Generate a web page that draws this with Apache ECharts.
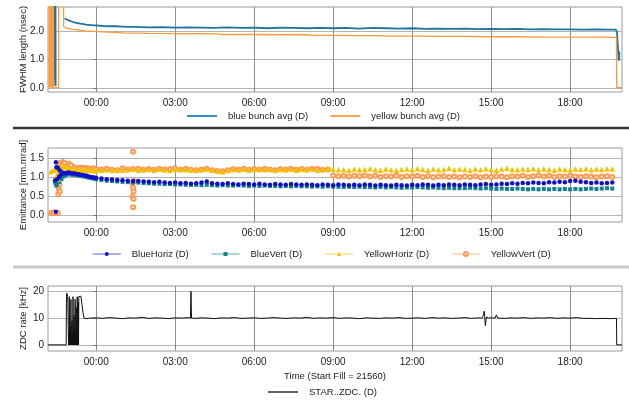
<!DOCTYPE html>
<html><head><meta charset="utf-8">
<script src="https://cdn.jsdelivr.net/npm/echarts@6/dist/echarts.min.js"></script>
<style>html,body{margin:0;padding:0;background:#fff}#c{width:629px;height:400px}</style>
</head><body><div id="c"></div>
<script>
// ---- tick labels ----
const hourTicks = [0, 3, 6, 9, 12, 15, 18];
const hourLabels = ['00:00', '03:00', '06:00', '09:00', '12:00', '15:00', '18:00'];
const fwhmTicks = [0, 1, 2];
const emitTicks = [0, 0.5, 1, 1.5];
const zdcTicks = [0, 10, 20];

// ---- panel 1: FWHM bunch length [hours, nsec] ----
const fwhmBlue = [[-1.83,1.0],[-1.80,1.0],[-1.79,null],[-1.61,0.9],[-1.605,2.95],[-1.60,0.9],[-1.55,0.06],[-1.545,2.95],[-1.54,0.06],[-1.53,null],
[-1.20,2.45],[-1.10,2.40],[-1.00,2.36],[-0.90,2.33],[-0.80,2.30],[-0.70,2.28],[-0.60,2.26],[-0.50,2.25],[-0.40,2.23],[-0.30,2.22],[-0.20,2.21],[-0.10,2.20],
[0.0,2.20],[0.25,2.18],[0.5,2.17],[0.75,2.17],[1.0,2.16],[1.25,2.15],[1.5,2.15],[1.75,2.14],[2.0,2.13],[2.5,2.14],[3.0,2.12],[3.5,2.13],[4.0,2.12],[4.5,2.11],[5.0,2.13],[5.5,2.11],[6.0,2.12],[6.5,2.10],[7.0,2.12],[7.5,2.11],[8.0,2.10],[8.5,2.11],[9.0,2.10],[9.5,2.11],[10.0,2.09],[10.5,2.11],[11.0,2.10],[11.5,2.09],[12.0,2.10],[12.5,2.08],[13.0,2.09],[13.5,2.08],[14.0,2.09],[14.5,2.07],[15.0,2.08],[15.5,2.07],[16.0,2.08],[16.5,2.06],[17.0,2.07],[17.5,2.06],[18.0,2.06],[18.5,2.05],[19.0,2.06],[19.5,2.05],[19.74,2.05],[19.78,1.95],[19.82,1.35],[19.84,1.0],[19.85,1.3],[19.86,0.95],[19.87,1.25]];
const fwhmYellow = [[-1.79,0],[-1.785,2.95],[-1.78,0.1],[-1.775,2.95],[-1.77,0],[-1.765,2.9],[-1.76,0.2],[-1.755,2.95],[-1.75,0],[-1.745,2.95],[-1.74,0],[-1.735,2.9],[-1.73,0.1],[-1.725,2.95],[-1.72,0],[-1.715,2.95],[-1.71,0],[-1.705,2.9],[-1.70,0],[-1.695,2.95],[-1.69,0],[-1.685,2.95],[-1.68,0.1],[-1.675,2.9],[-1.67,0],[-1.665,2.95],[-1.66,0],[-1.655,2.95],[-1.65,0],[-1.645,2.9],[-1.64,0],[-1.635,2.95],[-1.63,0],[-1.625,2.95],[-1.62,0],
[-1.43,0],[-1.425,3.0],[-1.24,3.0],[-1.235,2.15],[-1.2,2.13],[-1.1,2.10],[-1.0,2.08],[-0.9,2.06],[-0.8,2.05],[-0.6,2.03],[-0.4,2.01],[-0.2,2.00],
[0,1.98],[0.5,1.96],[1.0,1.94],[1.5,1.93],[2.0,1.92],[3.0,1.91],[4.0,1.91],[4.6,1.90],[4.7,1.88],[6.0,1.88],[7.0,1.87],[8.0,1.87],[8.2,1.85],[9.0,1.85],[10.0,1.84],[10.8,1.84],[11.0,1.82],[12.0,1.82],[13.0,1.81],[14.0,1.81],[15.0,1.80],[16.0,1.80],[17.0,1.79],[18.0,1.79],[19.0,1.79],[19.76,1.78],[19.77,0],[19.97,0]];

// ---- panel 2: emittance ----
const emitTimes = [-1.72,-1.64,-1.56,-1.48,-1.40,-1.32,-1.24,-1.16,-1.08,-1.00,-0.92,-0.84,-0.76,-0.68,-0.60,-0.52,-0.44,-0.36,-0.28,-0.20,-0.12,-0.04,
0.0,0.2,0.4,0.6,0.8,1.0,1.2,1.4,1.6,1.8,
2.0,2.2,2.4,2.6,2.8,3.0,3.2,3.4,3.6,3.8,
4.0,4.2,4.4,4.6,4.8,5.0,5.2,5.4,5.6,5.8,
6.0,6.2,6.4,6.6,6.8,7.0,7.2,7.4,7.6,7.8,
8.0,8.2,8.4,8.6,8.8,9.0,9.2,9.4,9.6,9.8,
10.0,10.2,10.4,10.6,10.8,11.0,11.2,11.4,11.6,11.8,
12.0,12.2,12.4,12.6,12.8,13.0,13.2,13.4,13.6,13.8,
14.0,14.2,14.4,14.6,14.8,15.0,15.2,15.4,15.6,15.8,
16.0,16.2,16.4,16.6,16.8,17.0,17.2,17.4,17.6,17.8,
18.0,18.2,18.4,18.6,18.8,19.0,19.2,19.4,19.6];
const blueHoriz = [null,null,0.92,0.95,1.02,1.08,1.12,1.10,1.13,1.12,1.10,1.11,1.09,1.08,1.07,1.06,1.05,1.04,1.02,1.01,1.00,0.99,
0.98,0.97,0.95,0.94,0.93,0.92,0.91,0.90,0.90,0.89,
0.88,0.87,0.88,0.86,0.85,0.86,0.84,0.85,0.83,0.84,
0.86,0.89,0.84,0.83,0.82,0.84,0.82,0.81,0.83,0.82,
0.81,0.83,0.81,0.80,0.82,0.81,0.80,0.82,0.81,0.80,
0.81,0.80,0.79,0.81,0.80,0.79,0.81,0.80,0.79,0.80,
0.79,0.81,0.80,0.78,0.80,0.79,0.78,0.80,0.79,0.78,
0.80,0.79,0.81,0.80,0.78,0.80,0.79,0.81,0.80,0.79,
0.81,0.80,0.79,0.81,0.82,0.80,0.81,0.83,0.82,0.84,
0.83,0.85,0.84,0.86,0.85,0.84,0.87,0.86,0.88,0.87,
0.90,0.91,0.88,0.87,0.85,0.86,0.84,0.85,0.86];
const blueHorizExtra = [[-1.53,1.40],[-1.51,1.27],[-1.53,0.08],[-1.45,1.25],[-1.38,1.18]];
const blueVert = [null,null,0.86,0.82,0.88,0.95,1.02,1.06,1.08,1.08,1.07,1.07,1.06,1.05,1.04,1.03,1.02,1.01,0.99,0.98,0.97,0.96,
0.95,0.93,0.91,0.90,0.89,0.88,0.87,0.86,0.86,0.85,
0.84,0.83,0.83,0.82,0.82,0.81,0.81,0.80,0.80,0.80,
0.79,0.80,0.79,0.78,0.79,0.78,0.78,0.79,0.78,0.77,
0.78,0.77,0.78,0.77,0.77,0.76,0.77,0.76,0.77,0.76,
0.76,0.75,0.76,0.75,0.76,0.75,0.75,0.74,0.75,0.74,
0.75,0.74,0.74,0.73,0.74,0.73,0.74,0.73,0.72,0.73,
0.73,0.74,0.73,0.72,0.73,0.72,0.71,0.72,0.71,0.71,
0.71,0.72,0.71,0.70,0.71,0.70,0.69,0.70,0.69,0.69,
0.70,0.69,0.68,0.69,0.68,0.69,0.68,0.69,0.68,0.69,
0.68,0.69,0.68,0.69,0.70,0.69,0.70,0.71,0.70];
const blueVertExtra = [[-1.52,0.78],[-1.44,0.90],[-1.36,1.00]];
const yellowHoriz = [1.15,1.18,1.22,1.20,1.28,1.25,1.30,1.27,1.25,1.22,1.21,1.22,1.20,1.21,1.19,1.20,1.18,1.19,1.20,1.18,1.19,1.17,
1.18,1.19,1.20,1.18,1.21,1.19,1.20,1.22,1.19,1.20,
1.21,1.19,1.22,1.20,1.18,1.21,1.23,1.20,1.19,1.21,
1.20,1.22,1.19,1.17,1.15,1.18,1.21,1.20,1.22,1.19,
1.21,1.23,1.20,1.22,1.19,1.21,1.20,1.22,1.19,1.21,
1.20,1.22,1.19,1.21,1.24,1.22,1.20,1.21,1.19,1.22,
1.20,1.21,1.23,1.20,1.19,1.22,1.20,1.18,1.21,1.22,
1.20,1.23,1.21,1.19,1.22,1.20,1.21,1.24,1.20,1.22,
1.21,1.19,1.22,1.20,1.23,1.21,1.19,1.22,1.24,1.21,
1.20,1.22,1.21,1.23,1.20,1.22,1.21,1.19,1.22,1.21,
1.20,1.22,1.21,1.23,1.20,1.22,1.21,1.23,1.22];
const yellowHorizExtra = [[-1.50,1.05],[-1.45,0.95],[-1.42,1.10]];
const yellowVert = [0.05,0.06,0.05,0.90,1.35,1.38,1.36,1.33,1.35,1.30,1.28,1.27,1.25,1.24,1.25,1.26,1.24,1.25,1.23,1.22,1.24,1.23,
1.22,1.21,1.23,1.20,1.19,1.24,1.21,1.22,1.23,1.20,
1.22,1.20,1.23,1.21,1.22,1.24,1.20,1.23,1.21,1.19,
1.21,1.23,1.19,1.17,1.16,1.19,1.22,1.21,1.23,1.20,
1.22,1.21,1.23,1.21,1.19,1.22,1.21,1.23,1.20,1.22,
1.21,1.23,1.22,1.20,1.21,1.05,1.03,1.04,1.02,1.04,
1.03,1.05,1.02,1.04,1.01,1.03,1.02,1.04,1.01,1.03,
1.02,1.04,1.01,1.03,1.00,1.02,1.03,1.01,1.02,1.00,
1.02,1.01,1.03,1.00,1.02,1.01,1.03,1.02,1.00,1.03,
1.02,1.04,1.01,1.03,1.05,1.02,1.04,1.01,1.03,1.02,
1.04,1.02,1.01,1.03,1.02,1.00,1.02,1.03,1.01];
const yellowVertExtra = [[-1.60,0.05],[-1.46,0.05],[-1.44,0.55],[-1.42,0.68],[-1.40,0.80],[-1.38,0.62],[-1.36,1.10],[-1.34,1.20],[-1.36,1.38],[-1.30,1.32],[-1.28,1.40],[-1.26,1.40],[-1.20,1.38],[-1.12,1.30],[-1.04,1.36],[-0.96,1.32],
[1.40,1.68],[1.38,0.85],[1.40,0.72],[1.42,0.62],[1.38,0.48],[1.42,0.42],[1.40,0.20],[1.45,0.90]];

// ---- panel 3: ZDC rate [hours, kHz] ----
const zdcRate = [[-1.83,0],[-1.14,0],[-1.13,16],[-1.12,19.3],[-1.10,18.6],[-1.08,18.2],[-1.06,17.5],
[-1.05,0],[-1.04,5],[-1.03,0],[-1.02,18],[-1.01,0],[-1.00,4],[-0.99,1],[-0.98,7],[-0.97,0],[-0.96,17],[-0.95,0],[-0.94,5],[-0.93,0],[-0.92,9],[-0.91,0],[-0.90,4],[-0.89,0],[-0.88,18],[-0.87,0],[-0.86,6],[-0.85,0],[-0.84,11],[-0.83,0],[-0.82,5],[-0.81,0],[-0.80,17],[-0.79,0],[-0.78,6],[-0.77,0],[-0.76,14],[-0.75,0],[-0.74,4],[-0.73,0],[-0.72,18],[-0.71,0],[-0.70,7],[-0.69,0],[-0.68,16],[-0.67,0],[-0.66,18],
[-0.64,18.2],[-0.58,18.2],[-0.54,15],[-0.50,12],[-0.46,10],[-0.44,9.4],[-0.40,10.1],[-0.35,9.8],[-0.30,10.2],
[-0.25,10.0],[0.0,10.1],[0.25,9.9],[0.5,10.2],[0.75,10.0],[1.0,9.8],[1.25,10.1],[1.5,10.0],[1.75,10.3],[2.0,9.9],[2.25,10.1],[2.5,10.0],[2.75,9.8],[3.0,10.1],[3.25,10.0],[3.5,10.2],[3.58,10.0],[3.6,20.0],[3.62,10.0],[3.75,9.9],[4.0,10.1],[4.25,10.0],[4.5,9.8],[4.75,10.1],[5.0,10.0],[5.25,10.2],[5.5,9.9],[5.75,10.0],[6.0,10.1],[6.25,9.9],[6.5,10.0],[6.75,10.2],[7.0,10.0],[7.25,9.9],[7.5,10.1],[7.75,10.0],[8.0,10.3],[8.25,9.9],[8.5,10.1],[8.75,10.0],[9.0,10.2],[9.25,9.9],[9.5,10.1],[9.75,10.0],[10.0,9.8],[10.25,10.1],[10.5,10.0],[10.75,9.9],[11.0,10.1],[11.25,10.0],[11.5,10.2],[11.75,9.9],[12.0,10.0],[12.25,10.1],[12.5,9.9],[12.75,10.2],[13.0,10.0],[13.25,10.1],[13.5,9.9],[13.75,10.0],[14.0,10.2],[14.25,9.9],[14.5,10.1],[14.65,10.0],[14.70,11.0],[14.74,12.6],[14.78,7.2],[14.82,10.4],[14.9,10.0],[15.0,10.1],[15.15,10.0],[15.2,11.2],[15.25,10.0],[15.5,9.9],[15.75,10.1],[16.0,10.0],[16.25,10.2],[16.5,9.9],[16.75,10.1],[17.0,10.0],[17.25,10.2],[17.5,9.9],[17.75,10.1],[18.0,10.0],[18.25,10.2],[18.5,9.9],[18.75,9.9],[19.0,9.8],[19.25,9.9],[19.5,9.8],[19.76,9.9],[19.77,0],[19.97,0]];

// ---- build ----
const FONT = 'Liberation Sans';
const X_MIN = -1.83, X_MAX = 19.97;
const grids = [
  {left: 48, right: 7, top: 7, height: 85},
  {left: 48, right: 7, top: 148, height: 74},
  {left: 48, right: 7, top: 286, height: 65}
].map(g => Object.assign({show: true, borderColor: '#9a9a9a', borderWidth: 1, backgroundColor: '#fff'}, g));

function xAx(i, extra) {
  return Object.assign({
    type: 'value', gridIndex: i, min: X_MIN, max: X_MAX,
    axisLine: {show: false},
    axisTick: {show: true, customValues: hourTicks, length: 3, lineStyle: {color: '#777'}},
    axisLabel: {customValues: hourTicks, margin: 6, fontSize: 10, fontFamily: FONT, color: '#222',
      formatter: v => { const k = hourTicks.indexOf(v); return k >= 0 ? hourLabels[k] : ''; }},
    splitLine: {show: true, lineStyle: {color: '#8f8f8f', width: 1}}
  }, extra || {});
}
function yAx(i, min, max, ticks, name, fmt) {
  return {
    type: 'value', gridIndex: i, min: min, max: max,
    name: name, nameLocation: 'middle', nameGap: 20, nameMoveOverlap: false,
    nameTextStyle: {fontSize: 9.5, fontFamily: FONT, color: '#222'},
    axisLine: {show: false},
    axisTick: {show: true, customValues: ticks, length: 3, lineStyle: {color: '#777'}},
    axisLabel: {customValues: ticks, margin: 4, fontSize: 10, fontFamily: FONT, color: '#222', formatter: fmt},
    splitLine: {show: true, lineStyle: {color: '#b4b4b4', width: 1}}
  };
}
const pairs = (vals, extra) => emitTimes.map((t, k) => [t, vals[k]]).concat(extra);

function emitSeries(name, data, symbol, size, color, filled, z) {
  return {
    name: name, type: 'line', xAxisIndex: 1, yAxisIndex: 1, data: data, z: z,
    symbol: symbol, symbolSize: size, showSymbol: true,
    lineStyle: {width: 0, opacity: 0, color: color},
    itemStyle: filled ? {color: color} : {color: color, borderColor: color, borderWidth: 1},
    emphasis: {disabled: true}, connectNulls: false
  };
}

const chart = echarts.init(document.getElementById('c'), null, {renderer: 'canvas'});
const legendBase = {padding: 0, textStyle: {fontSize: 9.5, fontFamily: FONT, color: '#222', padding: [0, 0, 0, 6]}, itemWidth: 30, selectedMode: false};
chart.setOption({
  animation: false,
  backgroundColor: '#fff',
  grid: grids,
  graphic: [
    {type: 'line', shape: {x1: 13, y1: 128, x2: 629, y2: 128}, style: {stroke: '#333', lineWidth: 2.5}},
    {type: 'line', shape: {x1: 13, y1: 267, x2: 629, y2: 267}, style: {stroke: '#c8c8c8', lineWidth: 3}}
  ],
  legend: [
    Object.assign({}, legendBase, {left: 187, top: 111, itemGap: 22, icon: 'rect', itemHeight: 2,
      data: ['blue bunch avg (D)', 'yellow bunch avg (D)']}),
    Object.assign({}, legendBase, {left: 92, top: 249, itemGap: 22, itemHeight: 5, itemWidth: 28,
      lineStyle: {width: 1.5, opacity: 0.45},
      data: ['BlueHoriz (D)', 'BlueVert (D)', 'YellowHoriz (D)', 'YellowVert (D)']}),
    Object.assign({}, legendBase, {left: 268, top: 387, icon: 'rect', itemHeight: 1.5, data: ['STAR..ZDC. (D)']})
  ],
  xAxis: [xAx(0), xAx(1), xAx(2, {name: 'Time (Start Fill = 21560)', nameLocation: 'middle', nameGap: 20,
    nameTextStyle: {fontSize: 9.5, fontFamily: FONT, color: '#222'}})],
  yAxis: [
    yAx(0, -0.15, 2.85, fwhmTicks, 'FWHM length (nsec)', v => v.toFixed(1)),
    yAx(1, -0.19, 1.78, emitTicks, 'Emittance [mm.mrad]', v => v.toFixed(1)),
    yAx(2, -2.3, 22, zdcTicks, 'ZDC rate [kHz]', v => String(v))
  ],
  series: [
    {name: 'blue bunch avg (D)', type: 'line', xAxisIndex: 0, yAxisIndex: 0, data: fwhmBlue, symbol: 'none',
      lineStyle: {width: 1.8, color: '#1f74a0'}, itemStyle: {color: '#3a8fbb'}, connectNulls: false},
    {name: 'yellow bunch avg (D)', type: 'line', xAxisIndex: 0, yAxisIndex: 0, data: fwhmYellow, symbol: 'none',
      lineStyle: {width: 1.3, color: '#ff9a3c'}, itemStyle: {color: '#ffa650'}},
    emitSeries('BlueHoriz (D)', pairs(blueHoriz, blueHorizExtra), 'circle', 4.5, '#1010cc', true, 4),
    emitSeries('BlueVert (D)', pairs(blueVert, blueVertExtra), 'rect', 4, '#15808e', true, 3),
    emitSeries('YellowHoriz (D)', pairs(yellowHoriz, yellowHorizExtra), 'triangle', 5.5, '#f2c200', true, 3),
    emitSeries('YellowVert (D)', pairs(yellowVert, yellowVertExtra), 'emptyCircle', 4, '#ff9a55', false, 2),
    {name: 'STAR..ZDC. (D)', type: 'line', xAxisIndex: 2, yAxisIndex: 2, data: zdcRate, symbol: 'none',
      lineStyle: {width: 1, color: '#111'}, itemStyle: {color: '#333'}}
  ]
});
</script></body></html>
